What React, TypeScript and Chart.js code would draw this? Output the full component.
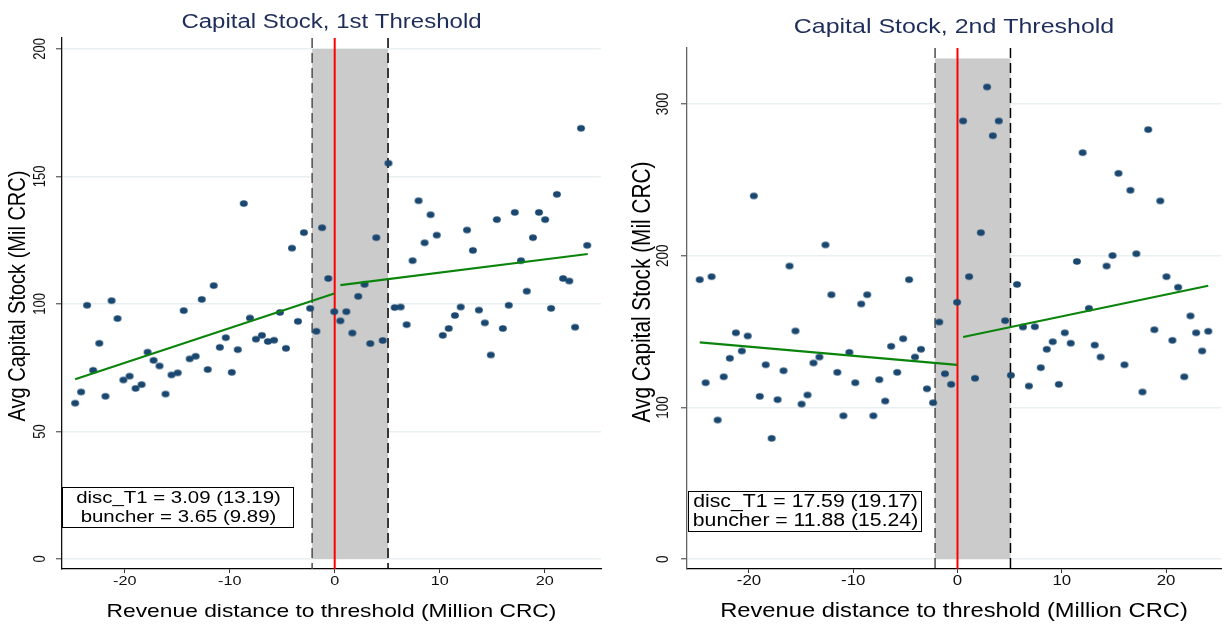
import React, { useEffect, useRef } from "react";
import { Chart, registerables } from "chart.js";

Chart.register(...registerables);

const FONT = '"Liberation Sans", Arial, Helvetica, sans-serif';

// ---------- data ----------
const binCenters = [
  -24.72, -24.15, -23.58, -23.0, -22.42, -21.83, -21.25, -20.68, -20.12, -19.53,
  -18.96, -18.39, -17.82, -17.25, -16.68, -16.11, -15.54, -14.95, -14.38, -13.81,
  -13.24, -12.66, -12.09, -11.52, -10.94, -10.37, -9.8, -9.23, -8.66, -8.07,
  -7.5, -6.93, -6.36, -5.78, -5.21, -4.64, -4.07, -3.5, -2.93, -2.34,
  -1.75, -1.2, -0.61, -0.04, 0.54, 1.11, 1.68, 2.24, 2.84, 3.39,
  3.96, 4.57, 5.12, 5.71, 6.28, 6.85, 7.42, 7.99, 8.56, 9.13,
  9.72, 10.29, 10.86, 11.45, 12.0, 12.6, 13.16, 13.73, 14.3, 14.87,
  15.44, 16.01, 16.58, 17.15, 17.74, 18.29, 18.88, 19.45, 20.04, 20.61,
  21.16, 21.75, 22.34, 22.89, 23.46, 24.05,
];

const capitalT1 = [
  61.1, 65.5, 99.5, 74.0, 84.6, 63.8, 101.3, 94.3, 70.2, 71.7,
  66.9, 68.4, 81.1, 77.9, 75.7, 64.7, 72.2, 73.0, 97.4, 78.5,
  79.5, 101.8, 74.3, 107.2, 83.0, 86.8, 73.2, 82.1, 139.4, 94.5,
  86.2, 87.7, 85.3, 85.8, 96.7, 82.6, 121.9, 93.2, 128.0, 98.3,
  89.3, 129.9, 110.0, 97.0, 93.4, 97.0, 88.6, 103.0, 107.7, 84.5,
  126.0, 85.7, 155.2, 98.6, 98.8, 91.9, 117.0, 140.5, 124.0, 135.0,
  127.0, 87.7, 90.4, 95.5, 98.8, 129.0, 121.0, 97.6, 92.6, 80.0,
  133.1, 90.4, 99.5, 135.9, 117.0, 105.0, 126.0, 135.9, 133.1, 98.3,
  143.0, 110.0, 109.0, 90.9, 168.9, 123.0,
];

const capitalT2 = [
  184.2, 116.3, 186.2, 91.7, 120.2, 132.4, 149.2, 137.2, 147.1, 239.4,
  107.3, 128.1, 79.6, 105.1, 124.2, 193.2, 150.4, 102.2, 108.2, 129.3,
  133.2, 207.1, 174.3, 123.1, 94.5, 136.3, 116.3, 168.2, 174.3, 94.5,
  118.3, 104.2, 140.3, 123.1, 145.3, 184.2, 133.2, 138.3, 112.3, 103.1,
  156.3, 122.2, 115.2, 169.3, 288.8, 186.2, 119.2, 215.2, 311.2, 279.1,
  288.8, 157.2, 121.2, 181.1, 153.0, 114.1, 153.2, 126.2, 138.3, 143.3,
  115.2, 149.2, 142.3, 196.2, 267.9, 165.3, 141.1, 133.2, 193.2, 200.1,
  254.3, 128.1, 243.1, 201.3, 110.2, 283.1, 151.2, 236.1, 186.2, 144.2,
  179.2, 120.2, 160.3, 149.2, 137.2, 150.2,
];

const fitT1BelowX = [-24.72, -0.04];
const fitT1BelowY = [70.5, 104.1];
const fitT1AboveX = [0.54, 24.1];
const fitT1AboveY = [107.4, 119.6];
const fitT2BelowX = [-24.72, -0.04];
const fitT2BelowY = [142.9, 128.1];
const fitT2AboveX = [0.54, 24.05];
const fitT2AboveY = [146.4, 180.2];

const xTicks = [-20, -10, 0, 10, 20];
const yTicksT1 = [0, 50, 100, 150, 200];
const yTicksT2 = [0, 100, 200, 300];

const bunchingWindow = [-2.15, 5.08];
const thresholdAt = 0;
const bandTopT1 = 200;
const bandTopT2 = 330;

const statsT1 = ["disc_T1 = 3.09 (13.19)", "buncher = 3.65 (9.89)"];
const statsT2 = ["disc_T1 = 17.59 (19.17)", "buncher = 11.88 (15.24)"];

const titleT1 = "Capital Stock, 1st Threshold";
const titleT2 = "Capital Stock, 2nd Threshold";
const xTitle = "Revenue distance to threshold (Million CRC)";
const yTitle = "Avg Capital Stock (Mil CRC)";

// ---------- styling / layout ----------
const SX = 1.2; // horizontal stretch of the original picture

type Spec = {
  left: number;
  width: number;
  title: string;
  values: number[];
  fitBelowX: number[];
  fitBelowY: number[];
  fitAboveX: number[];
  fitAboveY: number[];
  yTicks: number[];
  bandTop: number;
  stats: string[];
  padTop: number;
  padRight: number;
  yAxisWidth: number;
  xMin: number;
  xMax: number;
  yMin: number;
  yMax: number;
  fs: number;
  titleBaseline: number;
  yTitleX: number;
  yTitleY: number;
  yTickX: number;
  box: { x: number; y: number; w: number; h: number; b1: number; b2: number };
  yAxisColor: string;
};

const specs: Spec[] = [
  {
    left: 0, width: 612, title: titleT1, values: capitalT1,
    fitBelowX: fitT1BelowX, fitBelowY: fitT1BelowY, fitAboveX: fitT1AboveX, fitAboveY: fitT1AboveY,
    yTicks: yTicksT1, bandTop: bandTopT1, stats: statsT1,
    padTop: 38, padRight: 11, yAxisWidth: 62,
    xMin: -25.97, xMax: 25.36, yMin: -3.92, yMax: 204.3,
    fs: 1, titleBaseline: 28, yTitleX: 18, yTitleY: 296, yTickX: 41,
    box: { x: 62, y: 487, w: 231, h: 40, b1: 503, b2: 521.5 },
    yAxisColor: "#111",
  },
  {
    left: 612, width: 613, title: titleT2, values: capitalT2,
    fitBelowX: fitT2BelowX, fitBelowY: fitT2BelowY, fitAboveX: fitT2AboveX, fitAboveY: fitT2AboveY,
    yTicks: yTicksT2, bandTop: bandTopT2, stats: statsT2,
    padTop: 48, padRight: 0, yAxisWidth: 75,
    xMin: -25.94, xMax: 25.27, yMin: -6.5, yMax: 336.9,
    fs: 1.04, titleBaseline: 33, yTitleX: 31, yTitleY: 292, yTickX: 52,
    box: { x: 76, y: 491, w: 233, h: 40, b1: 507, b2: 525.5 },
    yAxisColor: "#666",
  },
];

function makeDot(color: string, rx: number, ry: number) {
  const c = document.createElement("canvas");
  c.width = Math.ceil(rx * 2) + 2;
  c.height = Math.ceil(ry * 2) + 2;
  const g = c.getContext("2d")!;
  g.fillStyle = color;
  g.beginPath();
  g.ellipse(c.width / 2, c.height / 2, rx, ry, 0, 0, Math.PI * 2);
  g.fill();
  return c;
}

function drawText(
  ctx: CanvasRenderingContext2D, s: string, x: number, y: number, size: number,
  o: { align?: CanvasTextAlign; baseline?: CanvasTextBaseline; rotate?: boolean; color?: string } = {}
) {
  ctx.save();
  ctx.translate(x, y);
  ctx.scale(SX, 1);
  if (o.rotate) ctx.rotate(-Math.PI / 2);
  ctx.font = `${size}px ${FONT}`;
  ctx.fillStyle = o.color || "#000";
  ctx.textAlign = o.align || "center";
  ctx.textBaseline = o.baseline || "alphabetic";
  ctx.fillText(s, 0, 0);
  ctx.restore();
}

function Panel({ spec }: { spec: Spec }) {
  const ref = useRef<HTMLCanvasElement>(null);
  useEffect(() => {
    const p = spec;
    const decor = {
      id: "decor",
      beforeDatasetsDraw(chart: any) {
        const { ctx, chartArea: a, scales } = chart;
        const x = scales.x, y = scales.y;
        ctx.save();
        const x0 = x.getPixelForValue(bunchingWindow[0]);
        const x1 = x.getPixelForValue(bunchingWindow[1]);
        const yb = y.getPixelForValue(0);
        const yt = y.getPixelForValue(p.bandTop);
        ctx.fillStyle = "#cbcbcb";
        ctx.fillRect(x0, yt, x1 - x0, yb - yt);
        ctx.lineWidth = 1.5;
        ctx.setLineDash([10, 5]);
        ctx.strokeStyle = "#4d4d4d";
        ctx.beginPath();
        ctx.moveTo(x0, a.top);
        ctx.lineTo(x0, a.bottom);
        ctx.stroke();
        ctx.strokeStyle = "#000";
        ctx.beginPath();
        ctx.moveTo(x1, a.top);
        ctx.lineTo(x1, a.bottom);
        ctx.stroke();
        ctx.setLineDash([]);
        const xr = x.getPixelForValue(thresholdAt);
        ctx.strokeStyle = "#ff0000";
        ctx.lineWidth = 2;
        ctx.beginPath();
        ctx.moveTo(xr, a.top);
        ctx.lineTo(xr, a.bottom);
        ctx.stroke();
        ctx.restore();
      },
      afterDraw(chart: any) {
        const { ctx, chartArea: a, scales } = chart;
        const x = scales.x, y = scales.y;
        const cx = (a.left + a.right) / 2;
        drawText(ctx, p.title, cx, p.titleBaseline, 20 * p.fs, { color: "#1e2d5a" });
        drawText(ctx, yTitle, p.yTitleX, p.yTitleY, 20 * p.fs, { rotate: true, baseline: "middle" });
        for (const t of y.ticks) {
          drawText(ctx, String(t.value), p.yTickX, y.getPixelForValue(t.value), 13 * p.fs, {
            rotate: true, baseline: "middle", color: "#111",
          });
        }
        for (const t of x.ticks) {
          drawText(ctx, String(t.value), x.getPixelForValue(t.value), 585, 13.5 * p.fs, { color: "#111" });
        }
        drawText(ctx, xTitle, cx, 617, 19 * p.fs);
        const b = p.box;
        ctx.save();
        ctx.fillStyle = "#fff";
        ctx.fillRect(b.x, b.y, b.w, b.h);
        ctx.strokeStyle = "#000";
        ctx.lineWidth = 1;
        ctx.strokeRect(b.x + 0.5, b.y + 0.5, b.w, b.h);
        ctx.restore();
        const bx = b.x + b.w / 2 + 1;
        drawText(ctx, p.stats[0], bx, b.b1, 17 * p.fs);
        drawText(ctx, p.stats[1], bx, b.b2, 17 * p.fs);
      },
    };

    const dot = makeDot("#1a476f", 3.9, 3.2);
    const chart = new Chart(ref.current!, {
      type: "scatter",
      data: {
        datasets: [
          {
            data: p.fitBelowX.map((v, i) => ({ x: v, y: p.fitBelowY[i] })),
            showLine: true, borderColor: "#0b840b", borderWidth: 2.2, pointRadius: 0,
          },
          {
            data: p.fitAboveX.map((v, i) => ({ x: v, y: p.fitAboveY[i] })),
            showLine: true, borderColor: "#0b840b", borderWidth: 2.2, pointRadius: 0,
          },
          {
            data: binCenters.map((v, i) => ({ x: v, y: p.values[i] })),
            pointStyle: dot as any, pointRadius: 3.9, backgroundColor: "#1a476f", borderWidth: 0,
          },
        ],
      } as any,
      options: {
        responsive: false,
        animation: false,
        events: [],
        layout: { padding: { top: p.padTop, right: p.padRight, left: 0, bottom: 0 } },
        plugins: { legend: { display: false }, tooltip: { enabled: false }, title: { display: false } },
        scales: {
          x: {
            type: "linear", min: p.xMin, max: p.xMax,
            afterBuildTicks: (s: any) => { s.ticks = xTicks.map((v) => ({ value: v })); },
            afterFit: (s: any) => { s.height = 625 - 569; },
            ticks: { display: false },
            grid: { display: true, drawOnChartArea: false, drawTicks: true, tickLength: 4, tickColor: "#333", tickWidth: 1 },
            border: { display: true, color: "#000", width: 1.3 },
          },
          y: {
            type: "linear", min: p.yMin, max: p.yMax,
            afterBuildTicks: (s: any) => { s.ticks = p.yTicks.map((v) => ({ value: v })); },
            afterFit: (s: any) => { s.width = p.yAxisWidth; },
            ticks: { display: false },
            grid: { display: true, color: "#e8f0f1", lineWidth: 1.5, drawTicks: true, tickLength: 6, tickColor: "#555", tickWidth: 1.2 },
            border: { display: true, color: p.yAxisColor, width: 1.3 },
          },
        },
      } as any,
      plugins: [decor],
    });
    return () => chart.destroy();
  }, [spec]);
  return (
    <canvas
      ref={ref}
      width={spec.width}
      height={625}
      style={{ position: "absolute", left: spec.left, top: 0, width: spec.width, height: 625 }}
    />
  );
}

export default function App() {
  return (
    <div style={{ position: "absolute", left: 0, top: 0, width: 1225, height: 625, background: "#fff", overflow: "hidden" }}>
      {specs.map((s, i) => (
        <Panel key={i} spec={s} />
      ))}
    </div>
  );
}
